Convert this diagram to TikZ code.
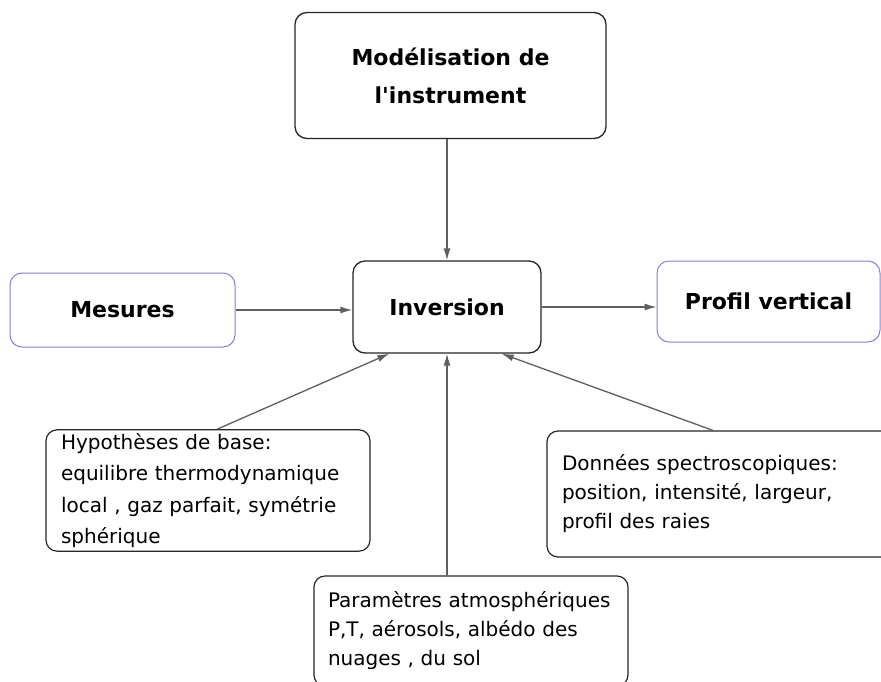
\documentclass[tikz,border=0pt]{standalone}
\usepackage{fontspec}
\setmainfont{DejaVu Sans}
\usetikzlibrary{arrows.meta}
\definecolor{boxblue}{RGB}{135,125,225}
\definecolor{linkgray}{RGB}{95,95,95}
\begin{document}
\begin{tikzpicture}[x=1pt,y=-1pt,
  bigbox/.style={draw=black!85, line width=1.3pt, rounded corners=12pt, align=center, font=\fontsize{22}{38}\selectfont\bfseries},
  bluebox/.style={bigbox, draw=boxblue, line width=1pt},
  textbox/.style={draw=black!85, line width=1.2pt, rounded corners=11pt, align=left, inner xsep=15pt, font=\fontsize{20}{29}\selectfont},
  link/.style={draw=linkgray, line width=1.3pt, -{Latex[length=12pt,width=7pt]}}]
\fill[white] (0,0) rectangle (881,681);
\useasboundingbox (0,0) rectangle (881,681);
\node[bigbox, minimum width=311pt, minimum height=126pt] (model) at (450.5,75.5) {Modélisation de\\l\textquotesingle instrument};
\node[bigbox, minimum width=188pt, minimum height=92pt] (inv) at (447,307) {Inversion};
\node[bluebox, minimum width=225pt, minimum height=74pt] (mes) at (122.5,310) {Mesures};
\node[bluebox, minimum width=223pt, minimum height=81pt] (prof) at (768.5,301.5) {Profil vertical};
\node[textbox, text width=294pt, minimum height=121pt, font=\fontsize{20}{31.5}\selectfont] (hyp) at (208,490.5) {Hypothèses de base:\\equilibre thermodynamique\\local , gaz parfait, symétrie\\sphérique};
\node[textbox, text width=318pt, minimum height=126pt] (don) at (721,494) {Données spectroscopiques:\\position, intensité, largeur,\\profil des raies};
\node[textbox, text width=286pt, minimum height=110pt, inner xsep=14pt] (par) at (471,631) {Paramètres atmosphériques\\P,T, aérosols, albédo des\\nuages , du sol};
\draw[link] (model.south -| inv.north) -- (inv.north);
\draw[link] (mes.east) -- (mes.east -| inv.west);
\draw[link] (inv.east) -- (inv.east -| prof.west);
\draw[link] ([xshift=9pt]hyp.north) -- ([xshift=37pt]inv.south west);
\draw[link] ([xshift=-8pt]don.north) -- ([xshift=-40pt]inv.south east);
\draw[link] (par.north -| inv.south) -- (inv.south);
\end{tikzpicture}
\end{document}
